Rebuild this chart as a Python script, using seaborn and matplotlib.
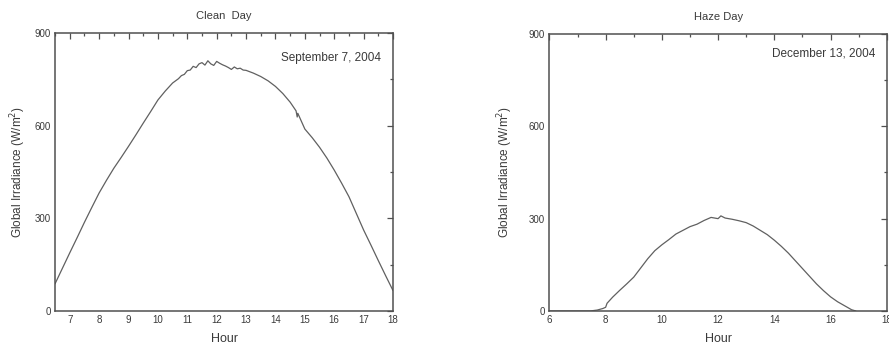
import matplotlib
matplotlib.use("Agg")
import matplotlib.pyplot as plt
import seaborn as sns
import pandas as pd
from matplotlib.ticker import MultipleLocator

sns.set_theme(style="white")
plt.rcParams['font.family'] = ['Liberation Sans', 'DejaVu Sans']

# ---- data ----
clean_hours = [6.5, 6.75, 7.0, 7.25, 7.5, 7.75, 8.0, 8.25, 8.5, 8.75, 9.0, 9.25, 9.5, 9.75,
               10.0, 10.25, 10.5, 10.6, 10.7, 10.8, 10.9, 11.0, 11.1, 11.2, 11.3, 11.4, 11.5,
               11.6, 11.7, 11.8, 11.9, 12.0, 12.1, 12.2, 12.3, 12.4, 12.5, 12.6, 12.7, 12.8,
               12.9, 13.0, 13.25, 13.5, 13.75, 14.0, 14.25, 14.5, 14.7, 14.74, 14.76, 15.0,
               15.25, 15.5, 15.75, 16.0, 16.25, 16.5, 16.75, 17.0, 17.25, 17.5, 17.75, 18.0]
clean_vals = [88, 138, 188, 237, 287, 335, 382, 423, 462, 497, 533, 570, 608, 645,
              683, 712, 738, 745, 752, 762, 766, 778, 780, 792, 788, 800, 804,
              796, 810, 800, 795, 808, 802, 797, 793, 788, 782, 790, 784, 786,
              780, 779, 770, 759, 745, 727, 704, 676, 648, 628, 640, 589,
              561, 530, 495, 456, 414, 370, 316, 262, 213, 163, 114, 66]

haze_hours = [6.0, 7.0, 7.45, 7.7, 7.9, 8.0, 8.05, 8.25, 8.5, 8.75, 9.0, 9.25, 9.5, 9.75,
              10.0, 10.25, 10.5, 10.75, 11.0, 11.25, 11.5, 11.75, 12.0, 12.1, 12.25, 12.5,
              12.75, 13.0, 13.25, 13.5, 13.75, 14.0, 14.25, 14.5, 14.75, 15.0, 15.25, 15.5,
              15.75, 16.0, 16.25, 16.5, 16.75, 16.9]
haze_vals = [0, 0, 0, 3, 8, 12, 25, 45, 67, 88, 110, 140, 170, 196,
             215, 232, 250, 262, 274, 282, 294, 304, 300, 309, 302, 298,
             293, 287, 276, 262, 248, 230, 210, 188, 163, 138, 113, 88,
             66, 46, 30, 17, 4, 0]

titles = ["Clean  Day", "Haze Day"]
dates = ["September 7, 2004", "December 13, 2004"]

fig = plt.figure(figsize=(8.89, 3.46), dpi=100)
axL = fig.add_axes([0.0619, 0.1012, 0.3802, 0.8035])
axR = fig.add_axes([0.6180, 0.1012, 0.3795, 0.8006])

txt = "#3a3a3a"
line_c = "#606060"

specs = [
    (axL, clean_hours, clean_vals, (6.5, 18), 1, 0.5, titles[0], dates[0], 0.91, 5),
    (axR, haze_hours, haze_vals, (6, 18), 2, 1, titles[1], dates[1], 0.928, 10),
]
for ax, hrs, vals, xlim, maj, mnr, title, date, dy, lp in specs:
    df = pd.DataFrame({"Hour": hrs, "Irr": vals})
    sns.lineplot(data=df, x="Hour", y="Irr", ax=ax, color=line_c, linewidth=0.9,
                 estimator=None, sort=False)
    ax.set_xlim(*xlim)
    ax.set_ylim(0, 900)
    ax.xaxis.set_major_locator(MultipleLocator(maj))
    ax.xaxis.set_minor_locator(MultipleLocator(mnr))
    ax.yaxis.set_major_locator(MultipleLocator(300))
    ax.yaxis.set_minor_locator(MultipleLocator(150))
    ax.tick_params(which="both", direction="in", top=True, right=True,
                   labeltop=False, labelright=False, color="#505050",
                   labelcolor=txt, labelsize=7, width=0.9, pad=3)
    ax.tick_params(which="major", length=4)
    ax.tick_params(which="minor", length=2.5)
    for s in ax.spines.values():
        s.set_color("#505050")
        s.set_linewidth(1.1)
    ax.set_xlabel("Hour", fontsize=9, color=txt, labelpad=6)
    ax.set_ylabel("Global Irradiance (W/m$^2$)", fontsize=8.5, color=txt, labelpad=lp)
    ax.set_title(title, fontsize=8, color=txt, pad=10)
    ax.text(0.965, dy, date, transform=ax.transAxes, ha="right", va="center",
            fontsize=8.5, color=txt)

fig.savefig("out.png", dpi=100)
